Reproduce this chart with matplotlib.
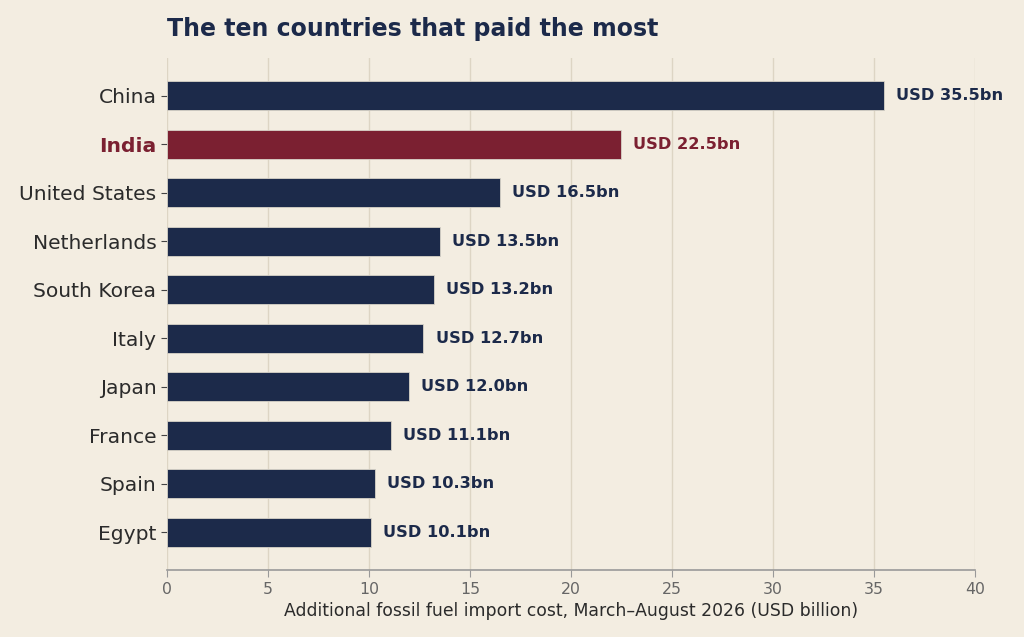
import matplotlib.pyplot as plt

countries = ["China", "India", "United States", "Netherlands", "South Korea",
             "Italy", "Japan", "France", "Spain", "Egypt"]
costs = [35.5, 22.5, 16.5, 13.5, 13.2, 12.7, 12.0, 11.1, 10.3, 10.1]
highlight = "India"

bg = "#f3ede1"
navy = "#1c2a4a"
red = "#7b2031"

fig, ax = plt.subplots(figsize=(10.24, 6.37), dpi=100)
fig.patch.set_facecolor(bg)
ax.set_facecolor(bg)
fig.subplots_adjust(left=0.163, right=0.952, top=0.909, bottom=0.105)

colors = [red if c == highlight else navy for c in countries]
ypos = list(range(len(countries)))
ax.barh(ypos, costs, height=0.6, color=colors, edgecolor="#d8d3c8", linewidth=0.6, zorder=3)
ax.invert_yaxis()

for y, v, c, col in zip(ypos, costs, countries, colors):
    ax.text(v + 0.6, y, f"USD {v:.1f}bn", va="center", ha="left",
            fontsize=11.7, fontweight="bold", color=col)

ax.set_yticks(ypos)
ax.set_yticklabels(countries, fontsize=14.6, color="#2b2b2b")
for lbl in ax.get_yticklabels():
    if lbl.get_text() == highlight:
        lbl.set_color(red)
        lbl.set_fontweight("bold")

ax.set_xlim(0, 40)
ax.set_xticks(range(0, 41, 5))
ax.tick_params(axis="x", labelsize=11.3, colors="#666666", length=5, color="#999999")
ax.tick_params(axis="y", length=4, color="#444444")
ax.set_xlabel("Additional fossil fuel import cost, March\u2013August 2026 (USD billion)",
              fontsize=12.4, color="#2b2b2b")
ax.grid(axis="x", color="#ddd5c4", linewidth=1, zorder=0)

for s in ["top", "right", "left"]:
    ax.spines[s].set_visible(False)
ax.spines["bottom"].set_color("#999999")
ax.spines["bottom"].set_linewidth(1.2)

ax.set_title("The ten countries that paid the most", loc="left", fontsize=17,
             fontweight="bold", color=navy, pad=16)

fig.savefig("out.png", dpi=100, facecolor=bg)
